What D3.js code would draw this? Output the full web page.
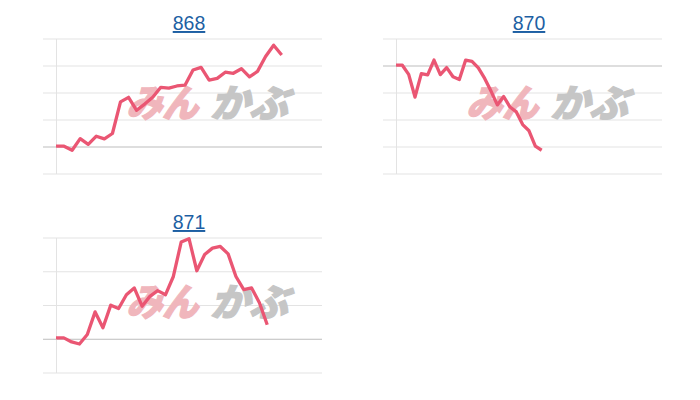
<!DOCTYPE html>
<html>
<head>
<meta charset="utf-8">
<script src="https://cdn.jsdelivr.net/npm/d3@7"></script>
<style>
body { margin: 0; background: #fff; }
</style>
</head>
<body>
<svg id="chart" width="700" height="400"></svg>
<script>
// values, in grid steps from the reference price (0 = dark line)
let codes = ['868', '870', '871'];
let prices868 = [0.03, 0.03, -0.12, 0.31, 0.10, 0.40, 0.30, 0.50, 1.67, 1.84, 1.36, 1.59, 1.84, 2.21, 2.18,
    2.26, 2.29, 2.85, 2.95, 2.48, 2.54, 2.77, 2.73, 2.90, 2.60, 2.80, 3.35, 3.77, 3.41];
let prices870 = [0.03, 0.03, -0.31, -1.15, -0.28, -0.33, 0.22, -0.32, -0.06, -0.40, -0.50, 0.22, 0.17, -0.07,
    -0.46, -0.93, -1.44, -1.13, -1.52, -1.70, -2.17, -2.40, -2.97, -3.12];
let prices871 = [0.04, 0.04, -0.08, -0.14, 0.14, 0.81, 0.34, 1.01, 0.91, 1.32, 1.52, 0.98, 1.27, 1.44, 1.32,
    1.86, 2.88, 2.98, 2.03, 2.51, 2.70, 2.75, 2.53, 1.86, 1.47, 1.52, 1.08, 0.43];
let ticks868 = [-1, 0, 1, 2, 3, 4];
let ticks870 = [-4, -3, -2, -1, 0, 1];
let ticks871 = [-1, 0, 1, 2, 3];
let slots = [33, 42, 34];

let series = [prices868, prices870, prices871];
let ticks = [ticks868, ticks870, ticks871];
let offsets = [[0, 0], [340, 0], [0, 199]];

const svg = d3.select('#chart');

function drawPanel(k) {
    let g = svg.append('g').attr('transform', `translate(${offsets[k][0]},${offsets[k][1]})`);
    let t = ticks[k];
    let y = d3.scaleLinear().domain([t[0], t[t.length - 1]]).range([174, 39]);
    let x = d3.scaleLinear().domain([0, slots[k]]).range([56, 322]);

    g.append('text')
        .attr('x', 189).attr('y', 30)
        .attr('text-anchor', 'middle')
        .attr('font-family', '"Liberation Sans", Arial, sans-serif')
        .attr('font-size', 19.5)
        .attr('fill', '#1d5fa3')
        .attr('text-decoration', 'underline')
        .text(codes[k]);

    g.selectAll('.grid').data(t).enter().append('line')
        .attr('x1', 43).attr('x2', 322)
        .attr('y1', d => y(d)).attr('y2', d => y(d))
        .attr('stroke', d => d == 0 ? '#bdbdbd' : '#e3e3e3')
        .attr('stroke-width', 1);

    g.append('line')
        .attr('x1', 56.5).attr('x2', 56.5)
        .attr('y1', y(t[t.length - 1])).attr('y2', y(t[0]))
        .attr('stroke', '#e3e3e3');

    // watermark logo
    let wm = g.append('g').attr('transform', 'translate(126,117) skewX(-16)')
        .attr('font-family', '"Noto Sans CJK JP", sans-serif')
        .attr('font-weight', 900)
        .attr('font-size', 38);
    wm.append('text').attr('x', 0).attr('y', 0)
        .attr('textLength', 72).attr('lengthAdjust', 'spacingAndGlyphs')
        .attr('fill', '#f0b6bc').attr('stroke', '#f0b6bc').attr('stroke-width', 1.2)
        .text('みん');
    wm.append('text').attr('x', 84).attr('y', 0)
        .attr('textLength', 78).attr('lengthAdjust', 'spacingAndGlyphs')
        .attr('fill', '#c6c6c6').attr('stroke', '#c6c6c6').attr('stroke-width', 1.2)
        .text('かぶ');

    let line = d3.line().x((d, i) => x(i)).y(d => y(d));
    g.append('path')
        .datum(series[k])
        .attr('d', line)
        .attr('fill', 'none')
        .attr('stroke', '#ea5673')
        .attr('stroke-width', 3.3)
        .attr('stroke-linejoin', 'round');
}

for (let k = 0; k < codes.length; k++) {
    drawPanel(k);
}
</script>
</body>
</html>
